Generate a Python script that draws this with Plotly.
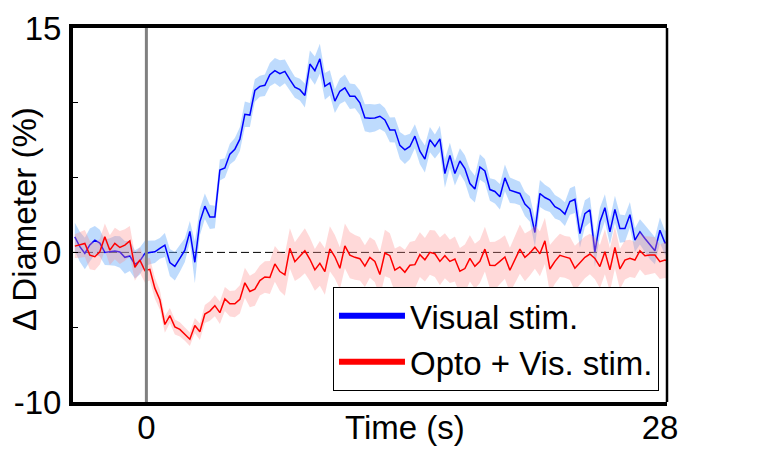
import numpy as np
import plotly.graph_objects as go

# ---- data ----
t0 = -3.9
dt = 0.2726
n_samples = 120

visual_mean = [
    1.04, 0.38, -0.07, 0.5, 0.82, 0.62, 0.0, 0.04, 0.1, 0.03,
    -0.33, -0.24, -0.8, -0.58, -0.07, 0.0, 0.04, 0.27, 0.49, -0.68,
    -0.93, -0.4, 0.15, 1.4, -0.66, 2.04, 3.09, 2.37, 2.37, 5.51,
    5.64, 6.57, 6.9, 7.57, 9.23, 9.18, 10.82, 11.1, 11.17, 11.88,
    12.15, 11.95, 12.1, 11.55, 11.04, 10.88, 10.49, 12.59, 12.15, 12.94,
    11.1, 11.33, 10.11, 10.77, 11.0, 10.44, 10.44, 10.0, 9.0, 8.97,
    8.98, 9.1, 8.85, 8.19, 8.19, 7.15, 6.86, 7.08, 7.77, 6.77,
    6.24, 7.54, 7.08, 7.59, 5.27, 6.48, 5.27, 6.11, 5.6, 4.6,
    4.23, 5.71, 5.44, 4.2, 4.07, 3.72, 4.98, 4.16, 4.07, 3.94,
    3.23, 2.9, 1.33, 3.94, 3.67, 3.5, 3.05, 2.88, 2.56, 3.4,
    3.54, 1.26, 2.59, 2.85, 0.04, 2.04, 2.99, 1.37, 2.88, 1.59,
    1.59, 2.52, 0.82, 1.37, 0.93, 0.49, 0.11, 1.48, 0.64, 0.71,
]
visual_sem = [
    0.95, 1.0, 1.05, 1.1, 0.95, 0.9, 0.85, 0.9, 1.0, 1.05,
    1.1, 1.0, 0.95, 0.9, 0.85, 0.8, 0.75, 0.7, 0.8, 0.9,
    0.95, 0.9, 0.8, 0.7, 1.4, 0.9, 0.85, 0.8, 0.75, 0.7,
    0.65, 0.7, 0.75, 0.8, 0.85, 0.8, 0.75, 0.7, 0.72, 0.78,
    0.85, 0.9, 0.8, 0.75, 0.7, 0.72, 0.8, 0.9, 0.95, 1.0,
    0.9, 0.85, 0.8, 0.85, 0.9, 0.85, 0.8, 0.82, 0.9, 0.95,
    0.9, 0.85, 0.8, 0.82, 0.85, 0.9, 0.95, 0.85, 0.8, 0.88,
    0.9, 0.85, 0.8, 0.88, 0.95, 0.85, 0.8, 0.85, 0.9, 0.95,
    0.9, 0.85, 0.8, 0.75, 0.8, 0.85, 0.9, 0.85, 0.8, 0.78,
    0.8, 0.85, 0.95, 0.9, 0.85, 0.8, 0.78, 0.75, 0.8, 0.88,
    0.9, 0.95, 0.9, 0.85, 1.0, 0.95, 0.9, 0.85, 0.9, 0.95,
    0.9, 0.85, 0.8, 0.85, 0.9, 0.95, 0.9, 0.85, 0.8, 0.78,
]
opto_mean = [
    0.42, 0.49, 0.6, -0.18, -0.29, 0.04, 1.04, 0.15, 0.6, 0.33,
    0.49, 0.77, -1.0, -0.51, -1.22, -1.13, -2.39, -3.16, -4.82, -4.22,
    -4.98, -5.15, -5.45, -5.8, -4.89, -5.3, -4.12, -3.92, -3.56, -4.03,
    -3.11, -3.43, -3.44, -3.14, -2.03, -2.61, -2.46, -1.88, -1.64, -1.68,
    -0.77, -1.28, -1.5, 0.27, -0.62, -0.29, 0.11, -0.46, -1.17, -0.73,
    -1.28, 0.24, -0.29, -1.06, 0.44, -0.18, -0.33, -0.42, -0.92, -0.34,
    -0.6, -1.48, -0.04, -0.22, -1.19, -0.97, -1.33, -0.86, -0.82, -0.15,
    -0.49, 0.0, -0.09, -0.6, -0.22, -0.6, -0.44, -1.26, -1.08, -0.4,
    -0.93, -0.6, 0.22, -0.86, -0.88, -0.6, -0.31, -1.19, -0.49, 0.22,
    -0.33, -0.04, 0.35, -0.09, 0.77, -1.11, -0.6, -0.2, -0.3, -0.4,
    -1.06, -0.69, -0.33, -0.11, -0.4, -0.95, 0.04, -1.17, 0.33, -1.11,
    -0.51, -0.4, -0.51, 0.11, -0.22, -0.18, -0.18, -0.62, -0.51, -0.62,
]
opto_sem = [
    0.8, 0.85, 0.9, 0.95, 0.9, 0.85, 0.9, 1.0, 1.05, 1.1,
    1.05, 1.0, 0.9, 0.85, 0.8, 0.75, 0.7, 0.65, 0.55, 0.5,
    0.5, 0.48, 0.45, 0.45, 0.5, 0.55, 0.6, 0.65, 0.7, 0.75,
    0.8, 0.85, 0.9, 0.95, 1.0, 1.05, 1.1, 1.0, 1.05, 1.1,
    1.2, 1.3, 1.4, 1.35, 1.3, 1.4, 1.5, 1.45, 1.4, 1.5,
    1.55, 1.5, 1.45, 1.4, 1.5, 1.55, 1.5, 1.45, 1.4, 1.35,
    1.4, 1.5, 1.55, 1.5, 1.45, 1.4, 1.5, 1.55, 1.6, 1.5,
    1.45, 1.5, 1.55, 1.6, 1.5, 1.45, 1.5, 1.55, 1.6, 1.55,
    1.5, 1.45, 1.5, 1.55, 1.6, 1.5, 1.45, 1.5, 1.6, 1.65,
    1.6, 1.5, 1.45, 1.5, 1.55, 1.6, 1.5, 1.45, 1.4, 1.45,
    1.5, 1.45, 1.4, 1.35, 1.4, 1.45, 1.5, 1.45, 1.4, 1.35,
    1.3, 1.25, 1.2, 1.25, 1.3, 1.25, 1.2, 1.15, 1.2, 1.25,
]
series_names = ["Visual stim.", "Opto + Vis. stim."]
x_tick_vals = [0, 28]
x_tick_text = ["0", "28"]
y_tick_vals = [-10, -5, 0, 5, 10, 15]
y_tick_text = ["-10", "", "0", "", "", "15"]

# ---- derived ----
t = t0 + dt * np.arange(n_samples)

def band(mean, sem):
    m = np.array(mean)
    s = np.array(sem)
    xs = np.concatenate([t, t[::-1]])
    ys = np.concatenate([m + s, (m - s)[::-1]])
    return xs, ys

FONT = "Liberation Sans, Arial, sans-serif"
FS = 33
fig = go.Figure()

bx, by = band(visual_mean, visual_sem)
fig.add_trace(go.Scatter(x=bx, y=by, fill="toself", mode="lines",
                         line=dict(width=0), fillcolor="rgba(100,170,250,0.42)",
                         hoverinfo="skip", showlegend=False))
fig.add_trace(go.Scatter(x=t, y=visual_mean, mode="lines",
                         line=dict(color="#0000FF", width=1.5), showlegend=False))
rx, ry = band(opto_mean, opto_sem)
fig.add_trace(go.Scatter(x=rx, y=ry, fill="toself", mode="lines",
                         line=dict(width=0), fillcolor="rgba(255,140,140,0.33)",
                         hoverinfo="skip", showlegend=False))
fig.add_trace(go.Scatter(x=t, y=opto_mean, mode="lines",
                         line=dict(color="#FF0000", width=1.5), showlegend=False))
# legend entries
fig.add_trace(go.Scatter(x=[None], y=[None], mode="lines", name=series_names[0],
                         line=dict(color="#0000FF", width=6)))
fig.add_trace(go.Scatter(x=[None], y=[None], mode="lines", name=series_names[1],
                         line=dict(color="#FF0000", width=6)))

fig.update_layout(
    width=768, height=463,
    margin=dict(l=73, r=101, t=28, b=61, autoexpand=False),
    paper_bgcolor="white", plot_bgcolor="white",
    font=dict(family=FONT, size=FS, color="black"),
    showlegend=True,
    legend=dict(x=0.9865, xanchor="right", y=0.03, yanchor="bottom",
                bordercolor="black", borderwidth=1, bgcolor="white",
                font=dict(family=FONT, size=FS, color="black"),
                itemwidth=66, tracegroupgap=0),
    xaxis=dict(range=[-4.0, 28.38], tickvals=x_tick_vals, ticktext=x_tick_text,
               ticks="", showgrid=False, zeroline=False, automargin=False,
               showline=True, linecolor="black", linewidth=4, mirror=True,
               ticklabelstandoff=-7,
               tickfont=dict(family=FONT, size=FS, color="black")),
    yaxis=dict(range=[-10, 15], tickvals=y_tick_vals, ticktext=y_tick_text,
               ticks="inside", ticklen=5, tickwidth=1, tickcolor="black",
               showgrid=False, zeroline=False, automargin=False,
               showline=True, linecolor="black", linewidth=4, mirror=False,
               ticklabelstandoff=1,
               tickfont=dict(family=FONT, size=FS, color="black")),
    shapes=[
        dict(type="line", xref="x", yref="y", x0=-4.0, x1=28.38, y0=0, y1=0,
             line=dict(color="black", width=1, dash="8px,4px"), layer="below"),
        dict(type="line", xref="x", yref="paper", x0=0, x1=0, y0=0, y1=1,
             line=dict(color="#808080", width=3), layer="above"),
        dict(type="line", xref="paper", yref="paper", x0=1, x1=1, y0=0, y1=1,
             line=dict(color="black", width=2.5), layer="above"),
    ],
    annotations=[
        dict(text="Time (s)", xref="paper", yref="paper", x=0.559, y=-0.0695,
             xanchor="center", yanchor="middle", showarrow=False,
             font=dict(family=FONT, size=FS, color="black")),
        dict(text="Δ Diameter (%)", xref="paper", yref="paper", x=-0.082, y=0.49,
             xanchor="center", yanchor="middle", textangle=-90, showarrow=False,
             borderpad=0,
             font=dict(family=FONT, size=FS, color="black")),
    ],
)

fig.write_html("out.html",
               config={"displayModeBar": False},
               post_script="document.body.style.margin='0';document.body.style.overflow='hidden';")
